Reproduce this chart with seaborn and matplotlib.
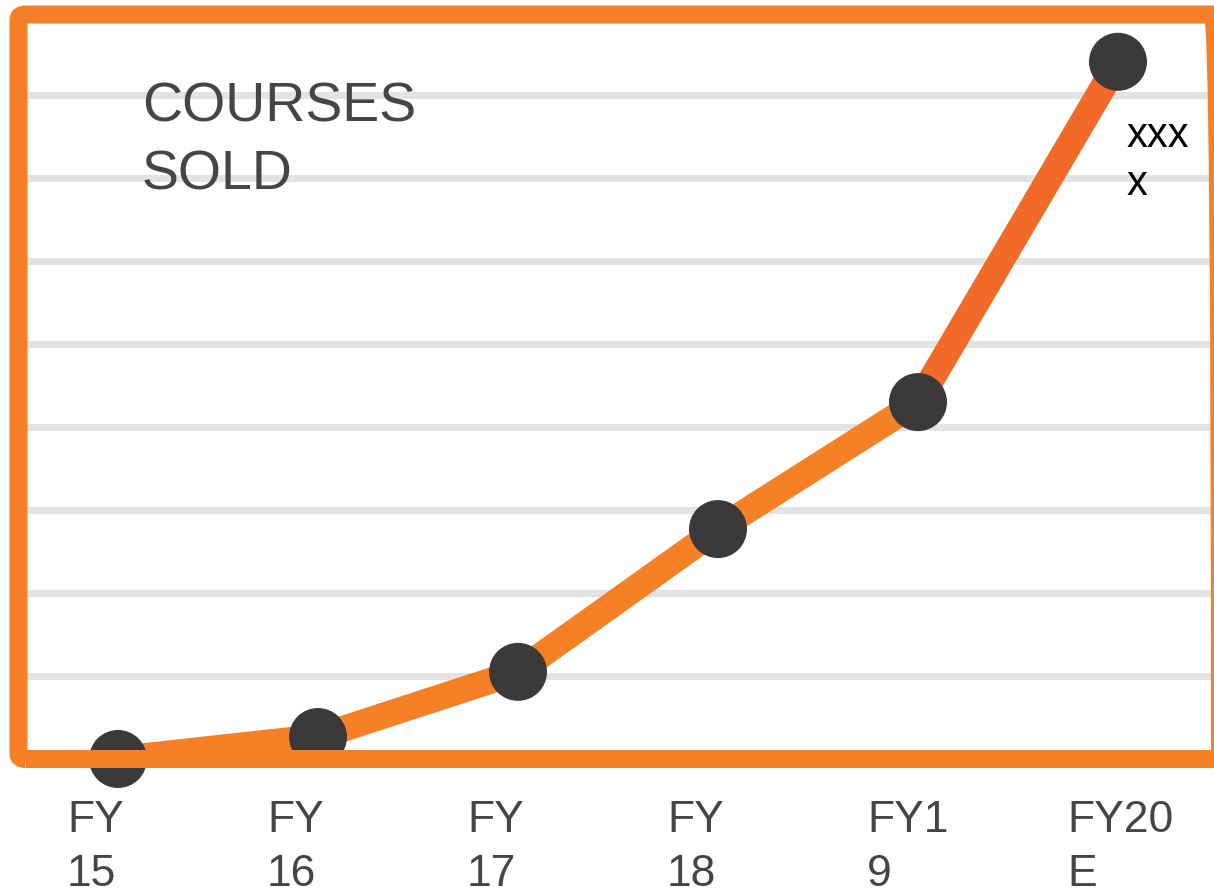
import matplotlib
matplotlib.use("Agg")
import matplotlib.pyplot as plt
import seaborn as sns
import pandas as pd
from matplotlib.patches import FancyBboxPatch

categories = ["FY\n15", "FY\n16", "FY\n17", "FY\n18", "FY1\n9", "FY20\nE"]
values = [0.0, 0.265, 1.05, 2.77, 4.30, 8.40]
gridlines = [1, 2, 3, 4, 5, 6, 7, 8]

sns.set_theme(style="white")
plt.rcParams['font.family'] = ['Liberation Sans', 'DejaVu Sans']

W, H = 1214, 895
UNIT = 83.0
fig = plt.figure(figsize=(W / 100, H / 100), dpi=100)
ax = fig.add_axes([18 / W, (H - 760) / H, 1 - 18 / W, (760 - 24) / H])

df = pd.DataFrame({"x": range(len(values)), "y": values})

px = 0.72
for g in gridlines:
    ax.axhline(g, color="#e3e3e3", lw=7 * px, zorder=1)

frame = FancyBboxPatch((18.5 / W, (H - 760) / H), (1220 - 18.5) / W, (760 - 15.5) / H,
                       boxstyle="round,pad=0,rounding_size=0.006",
                       transform=fig.transFigure, fill=False,
                       edgecolor="#f58025", lw=18 * px, zorder=2, clip_on=False)
fig.add_artist(frame)

ax.axhline(0, color="#8a8a8a", lw=2 * px, zorder=3)

sns.lineplot(data=df, x="x", y="y", ax=ax, color="#f58025", lw=26 * px,
             zorder=4, solid_capstyle="butt")
sns.lineplot(data=df.iloc[-2:], x="x", y="y", ax=ax, color="#f26a27", lw=26 * px,
             zorder=4, solid_capstyle="butt")
sns.scatterplot(data=df, x="x", y="y", ax=ax, color="#3b393a", s=(58 * px) ** 2,
                edgecolor="none", zorder=6, clip_on=False)

ax.set_xlim(-0.5, 5.48)
ax.set_ylim(0, (760 - 24) / UNIT)
ax.set_xticks(range(len(categories)))
ax.set_xticklabels([])
ax.tick_params(axis="x", length=0)
for i, lab in enumerate(categories):
    ax.annotate(lab, xy=(i, 0), xycoords=("data", "axes fraction"),
                xytext=(-51, -40), textcoords="offset pixels",
                ha="left", va="top", fontsize=32, color="#454545",
                linespacing=1.42, annotation_clip=False)
ax.set_yticks([])
ax.set_xlabel("")
ax.set_ylabel("")
for s in ax.spines.values():
    s.set_visible(False)

fig.text(142 / W, 1 - 81 / H, "COURSES\nSOLD", fontsize=40, color="#454545",
         ha="left", va="top", linespacing=1.41)
fig.text(1127 / W, 1 - 116 / H, "xxx\nx", fontsize=30, color="black",
         ha="left", va="top", linespacing=1.26)

fig.savefig("out.png", dpi=100)
